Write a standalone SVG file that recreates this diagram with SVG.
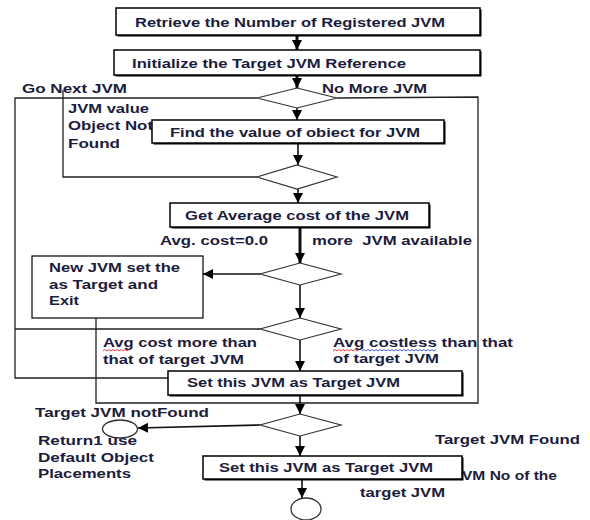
<svg xmlns="http://www.w3.org/2000/svg" width="590" height="520" viewBox="0 0 590 520">
<style>
.t{font-family:"Liberation Sans",Arial,sans-serif;font-weight:bold;font-size:13.5px;fill:#1c1c3c}
.box{fill:#fff;stroke:#000;stroke-width:1.5}
.sh{fill:#000}
.dia{fill:#fff;stroke:#333;stroke-width:1.2}
.ln{fill:none;stroke:#222;stroke-width:1.3}
.ar{fill:none;stroke:#111;stroke-width:1.6}
.thk{stroke-width:3}
.circ{fill:#fff;stroke:#333;stroke-width:1.3}
.wav{fill:none;stroke-width:0.9}
</style>
<defs>
<marker id="ah" markerUnits="userSpaceOnUse" markerWidth="10" markerHeight="10" viewBox="0 0 10 10" refX="10" refY="5" orient="auto">
<path d="M0,0 L10,5 L0,10 Z" fill="#000"/>
</marker>
</defs>
<rect width="590" height="520" fill="#fff"/>

<g id="connectors">
<line class="ar thk" x1="297" y1="35" x2="297" y2="50" marker-end="url(#ah)"/>
<line class="ar thk" x1="297" y1="75" x2="297" y2="88" marker-end="url(#ah)"/>
<line class="ar" x1="297" y1="108" x2="297" y2="120" marker-end="url(#ah)"/>
<line class="ar" x1="298" y1="143" x2="298" y2="165" marker-end="url(#ah)"/>
<line class="ar" x1="298" y1="189" x2="298" y2="203" marker-end="url(#ah)"/>
<line class="ar thk" x1="300" y1="227" x2="300" y2="263" marker-end="url(#ah)"/>
<line class="ar" x1="300" y1="285" x2="300" y2="318" marker-end="url(#ah)"/>
<line class="ar" x1="300" y1="340" x2="300" y2="371" marker-end="url(#ah)"/>
<line class="ar" x1="300" y1="395" x2="300" y2="414" marker-end="url(#ah)"/>
<line class="ar" x1="300" y1="436" x2="300" y2="456" marker-end="url(#ah)"/>
<line class="ar" x1="302" y1="479" x2="302" y2="498" marker-end="url(#ah)"/>
<line class="ar" x1="260" y1="274" x2="203" y2="274" marker-end="url(#ah)"/>
<line class="ar" x1="260" y1="425" x2="138" y2="428" marker-end="url(#ah)"/>
<polyline class="ln" points="257,98 15,98 15,378 168,378"/>
<polyline class="ln" points="63,90 63,177 257,177"/>
<polyline class="ln" points="260,329 15,329"/>
<polyline class="ln" points="337,98 478,97 478,403 96,403 96,318"/>
</g>

<g id="labels">
<text class="t" x="22" y="93" textLength="105" lengthAdjust="spacingAndGlyphs">Go Next JVM</text>
<text class="t" x="322" y="93" textLength="105" lengthAdjust="spacingAndGlyphs">No More JVM</text>
<text class="t" x="68" y="113" textLength="81" lengthAdjust="spacingAndGlyphs">JVM value</text>
<text class="t" x="68" y="130" textLength="85" lengthAdjust="spacingAndGlyphs">Object Not</text>
<text class="t" x="68" y="148" textLength="52" lengthAdjust="spacingAndGlyphs">Found</text>
<text class="t" x="160" y="245" textLength="108" lengthAdjust="spacingAndGlyphs">Avg. cost=0.0</text>
<text class="t" x="312" y="245" textLength="160" lengthAdjust="spacingAndGlyphs" xml:space="preserve">more  JVM available</text>
<text class="t" x="103" y="347" textLength="154" lengthAdjust="spacingAndGlyphs">Avg cost more than</text>
<text class="t" x="103" y="364" textLength="141" lengthAdjust="spacingAndGlyphs">that of target JVM</text>
<text class="t" x="333" y="347" textLength="180" lengthAdjust="spacingAndGlyphs">Avg costless than that</text>
<text class="t" x="333" y="363" textLength="106" lengthAdjust="spacingAndGlyphs">of target JVM</text>
<text class="t" x="35" y="417" textLength="174" lengthAdjust="spacingAndGlyphs">Target JVM notFound</text>
<text class="t" x="38" y="445" textLength="99" lengthAdjust="spacingAndGlyphs">Return1 use</text>
<text class="t" x="38" y="462" textLength="116" lengthAdjust="spacingAndGlyphs">Default Object</text>
<text class="t" x="38" y="478" textLength="93" lengthAdjust="spacingAndGlyphs">Placements</text>
<text class="t" x="435" y="444" textLength="145" lengthAdjust="spacingAndGlyphs">Target JVM Found</text>
<text class="t" x="462" y="480" textLength="95" lengthAdjust="spacingAndGlyphs">VM No of the</text>
<text class="t" x="360" y="497" textLength="85" lengthAdjust="spacingAndGlyphs">target JVM</text>
<path class="wav" stroke="#e03030" d="M103,351 l2,-1.5 l2,1.5 l2,-1.5 l2,1.5 l2,-1.5 l2,1.5 l2,-1.5 l2,1.5 l2,-1.5 l2,1.5 l2,-1.5 l2,1.5 l2,-1.5"/>
<path class="wav" stroke="#e03030" d="M333,351 l2,-1.5 l2,1.5 l2,-1.5 l2,1.5 l2,-1.5 l2,1.5 l2,-1.5 l2,1.5 l2,-1.5 l2,1.5 l2,-1.5 l2,1.5 l2,-1.5"/>
<path class="wav" stroke="#3050e0" d="M362,351 l2,-1.5 l2,1.5 l2,-1.5 l2,1.5 l2,-1.5 l2,1.5 l2,-1.5 l2,1.5 l2,-1.5 l2,1.5 l2,-1.5 l2,1.5 l2,-1.5 l2,1.5 l2,-1.5 l2,1.5 l2,-1.5 l2,1.5 l2,-1.5 l2,1.5 l2,-1.5 l2,1.5 l2,-1.5 l2,1.5 l2,-1.5 l2,1.5 l2,-1.5 l2,1.5 l2,-1.5 l2,1.5 l2,-1.5 l2,1.5 l2,-1.5 l2,1.5 l2,-1.5 l2,1.5 l2,-1.5"/>
</g>

<g id="box1">
<rect class="sh" x="117.5" y="9.5" width="364" height="27"/>
<rect class="box" x="116" y="8" width="364" height="27"/>
<text class="t" x="135" y="27" textLength="310" lengthAdjust="spacingAndGlyphs">Retrieve the Number of Registered JVM</text>
</g>
<g id="box2">
<rect class="sh" x="115.5" y="51.5" width="366" height="25"/>
<rect class="box" x="114" y="50" width="366" height="25"/>
<text class="t" x="132" y="68" textLength="274" lengthAdjust="spacingAndGlyphs">Initialize the Target JVM Reference</text>
</g>
<g id="d1"><polygon class="dia" points="297,88 337,98 297,108 257,98"/></g>
<g id="box3">
<rect class="sh" x="153.5" y="121.5" width="292" height="23"/>
<rect class="box" x="152" y="120" width="292" height="23"/>
<text class="t" x="170" y="137" textLength="250" lengthAdjust="spacingAndGlyphs">Find the value of obiect for JVM</text>
</g>
<g id="d2"><polygon class="dia" points="297,165 337,177 297,189 257,177"/></g>
<g id="box4">
<rect class="sh" x="171.5" y="204.5" width="259" height="24"/>
<rect class="box" x="170" y="203" width="259" height="24"/>
<text class="t" x="185" y="220" textLength="224" lengthAdjust="spacingAndGlyphs">Get Average cost of the JVM</text>
</g>
<g id="d3"><polygon class="dia" points="300,263 341,274 300,285 260,274"/></g>
<g id="box-new">
<rect class="box" x="32" y="256" width="171" height="62" style="stroke-width:1.2"/>
<text class="t" x="49" y="272" textLength="131" lengthAdjust="spacingAndGlyphs">New JVM set the</text>
<text class="t" x="49" y="289" textLength="109" lengthAdjust="spacingAndGlyphs">as Target and</text>
<text class="t" x="49" y="305" textLength="30" lengthAdjust="spacingAndGlyphs">Exit</text>
</g>
<g id="d4"><polygon class="dia" points="300,318 341,329 300,340 260,329"/></g>
<g id="box5">
<rect class="sh" x="169.5" y="372.5" width="294" height="24"/>
<rect class="box" x="168" y="371" width="294" height="24"/>
<text class="t" x="187" y="387" textLength="213" lengthAdjust="spacingAndGlyphs">Set this JVM as Target JVM</text>
</g>
<g id="d5"><polygon class="dia" points="300,414 341,425 300,436 260,425"/></g>
<g id="box6">
<rect class="sh" x="204.5" y="457.5" width="259" height="23"/>
<rect class="box" x="203" y="456" width="259" height="23"/>
<text class="t" x="219" y="472" textLength="214" lengthAdjust="spacingAndGlyphs">Set this JVM as Target JVM</text>
</g>
<g id="end-left"><ellipse class="circ" cx="120" cy="429" rx="17.5" ry="9"/></g>
<g id="end-bottom"><ellipse class="circ" cx="306" cy="509" rx="15" ry="11"/></g>
</svg>
